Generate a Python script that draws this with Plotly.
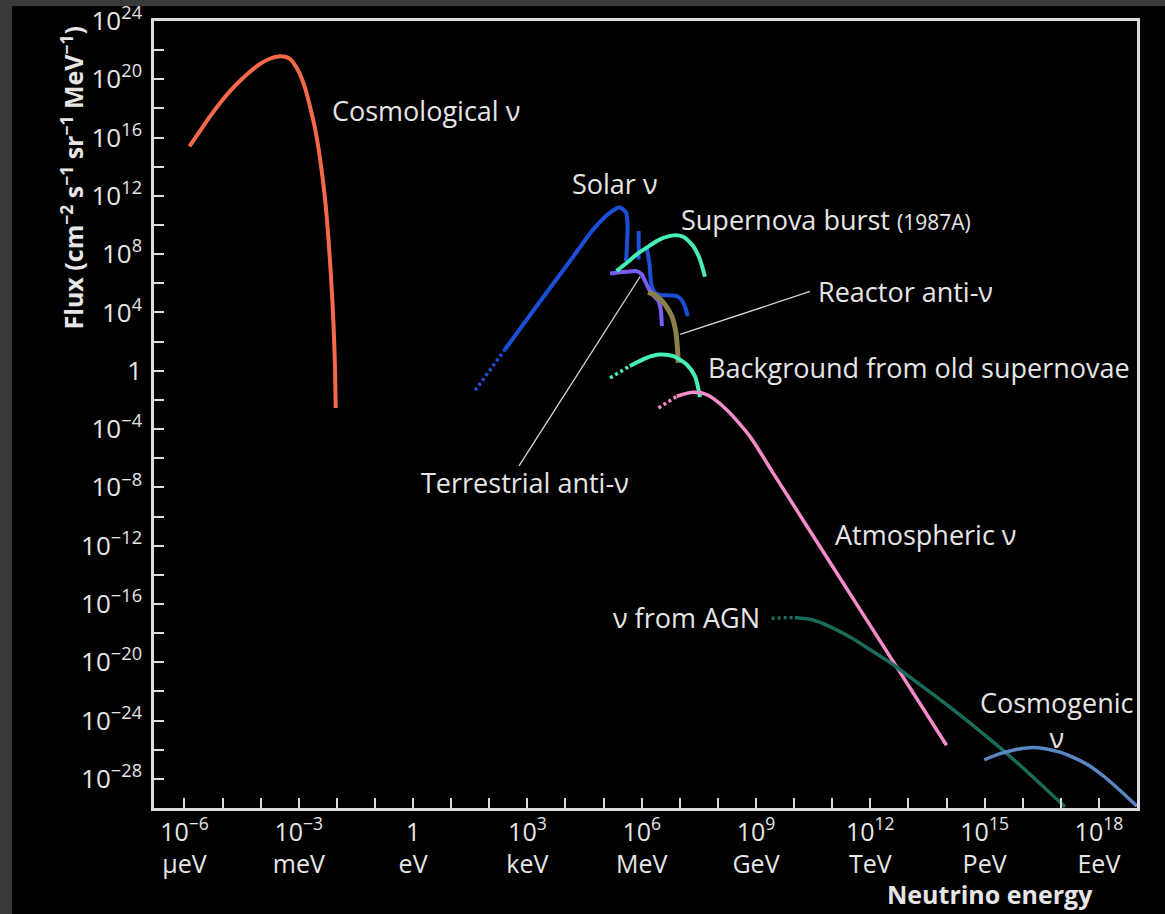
import numpy as np
import plotly.graph_objects as go

# ---- data (log10 of energy in eV, log10 of flux) ----
cosmo_lx = [-5.87, -5.59, -5.33, -5.07, -4.81, -4.54, -4.28, -4.02, -3.76, -3.54, -3.36, -3.23,
            -3.10, -2.97, -2.84, -2.71, -2.57, -2.44, -2.31, -2.22, -2.15, -2.09, -2.05, -2.03]
cosmo_ly = [15.39, 16.46, 17.45, 18.36, 19.17, 19.90, 20.52, 21.05, 21.41, 21.57, 21.55, 21.39,
            20.98, 20.36, 19.44, 18.18, 16.58, 14.52, 11.77, 9.02, 6.27, 3.29, 0.31, -2.55]

solar_dot_lx = [1.63, 2.41]
solar_dot_ly = [-1.34, 1.46]
solar_lx = [2.41, 3.24, 4.12, 4.73, 5.17, 5.43, 5.59, 5.63, 5.62, 5.60, 5.58]
solar_ly = [1.46, 4.43, 7.53, 9.70, 10.85, 11.20, 10.85, 9.90, 9.02, 7.87, 7.53]
solar_line_lx = [5.92, 5.92]
solar_line_ly = [9.59, 7.64]
solar_b8_lx = [6.13, 6.20, 6.26, 6.35, 6.48, 6.92, 7.07, 7.16, 7.21]
solar_b8_ly = [8.45, 7.41, 5.81, 5.35, 5.21, 5.12, 4.78, 4.21, 3.75]

terr_lx = [5.17, 5.34, 5.61, 5.87, 6.00, 6.09, 6.17, 6.31, 6.44, 6.50, 6.53]
terr_ly = [6.68, 6.73, 6.80, 6.84, 6.61, 6.15, 5.70, 5.17, 4.78, 4.21, 3.06]

reactor_lx = [6.17, 6.39, 6.61, 6.79, 6.90, 6.94, 6.96]
reactor_ly = [5.40, 5.12, 4.55, 3.75, 2.60, 1.46, 0.54]

sn_lx = [5.34, 5.61, 5.87, 6.13, 6.48, 6.83, 7.09, 7.35, 7.53, 7.66]
sn_ly = [6.84, 7.41, 7.99, 8.45, 9.02, 9.29, 9.20, 8.56, 7.64, 6.45]

bg_dot_lx = [5.17, 5.69]
bg_dot_ly = [-0.49, 0.33]
bg_lx = [5.69, 6.13, 6.48, 6.83, 7.18, 7.40, 7.53]
bg_ly = [0.33, 0.89, 1.11, 1.00, 0.43, -0.38, -1.80]

atm_dot_lx = [6.44, 6.92]
atm_dot_ly = [-2.55, -1.75]
atm_lx = [6.92, 7.35, 7.71, 8.23, 8.84, 9.45, 10.33, 12.08, 14.00]
atm_ly = [-1.75, -1.48, -1.64, -2.67, -4.50, -7.02, -10.63, -17.81, -25.69]

agn_dot_lx = [9.41, 10.02]
agn_dot_ly = [-16.98, -16.93]
agn_lx = [10.02, 10.50, 10.94, 11.47, 11.99, 12.52, 13.04, 13.57, 14.09, 14.62, 15.40, 16.19, 17.11]
agn_ly = [-16.93, -17.10, -17.55, -18.27, -19.13, -20.02, -21.02, -22.05, -23.08, -24.18, -25.86, -27.68, -29.92]

cosmogenic_lx = [14.99, 15.41, 15.80, 16.19, 16.59, 16.98, 17.37, 17.77, 18.16, 18.55, 19.00]
cosmogenic_ly = [-26.69, -26.27, -26.00, -25.86, -25.93, -26.17, -26.58, -27.13, -27.89, -28.78, -29.88]

# label leader lines
reactor_leader_lx = [7.01, 10.42]
reactor_leader_ly = [2.49, 5.44]
terr_leader_lx = [5.96, 2.78]
terr_leader_ly = [6.47, -6.52]

# axis ticks
x_tick_exp = list(range(-6, 19))
x_label_units = {-6: "μeV", -3: "meV", 0: "eV", 3: "keV", 6: "MeV", 9: "GeV", 12: "TeV", 15: "PeV", 18: "EeV"}
y_tick_exp = list(range(-28, 25, 2))

TEXT = "#e6e6e6"
AXIS = "#dcdcdc"
FONT = "Open Sans"


def p(v):
    return np.power(10.0, np.asarray(v, dtype=float))


def sup(k):
    s = str(k).replace("-", "−")
    return f"10<sup>{s}</sup>"


fig = go.Figure()


def add(lx, ly, color, width=4, dash="solid", spline=True):
    fig.add_trace(go.Scatter(
        x=p(lx), y=p(ly), mode="lines",
        line=dict(color=color, width=width, dash=dash,
                  shape="spline" if spline else "linear", smoothing=0.7),
        hoverinfo="skip", showlegend=False,
    ))


DOTS = "3px,3px"

# curves
add(cosmo_lx, cosmo_ly, "#f4694a", 4)
add(solar_dot_lx, solar_dot_ly, "#1c4fd8", 3.5, DOTS, False)
add(solar_lx, solar_ly, "#1c4fd8", 4)
add(solar_line_lx, solar_line_ly, "#1c4fd8", 4, spline=False)
add(solar_b8_lx, solar_b8_ly, "#1c4fd8", 4)
add(terr_lx, terr_ly, "#7a5cf6", 4)
add(reactor_lx, reactor_ly, "#8c7f48", 5)
add(sn_lx, sn_ly, "#45efb6", 4)
add(bg_dot_lx, bg_dot_ly, "#45efb6", 3.5, DOTS, False)
add(bg_lx, bg_ly, "#45efb6", 4)
add(atm_dot_lx, atm_dot_ly, "#f58bcb", 3.5, DOTS, False)
add(atm_lx, atm_ly, "#f58bcb", 3.5)
add(agn_dot_lx, agn_dot_ly, "#1b6b5c", 3.5, DOTS, False)
add(agn_lx, agn_ly, "#1b6b5c", 3.5)
add(cosmogenic_lx, cosmogenic_ly, "#5b86c6", 3.5)

# leader lines
add(reactor_leader_lx, reactor_leader_ly, "#d8d8d8", 1.3, spline=False)
add(terr_leader_lx, terr_leader_ly, "#d8d8d8", 1.3, spline=False)

# curve labels: (text, log x, log y, xanchor)
labels = [
    ("Cosmological ν", -2.18, 17.88, "left"),
    ("Solar ν", 4.12, 12.87, "left"),
    ("Supernova burst <span style='font-size:21px'>(1987A)</span>", 6.98, 10.39, "left"),
    ("Reactor anti-ν", 10.58, 5.44, "left"),
    ("Background from old supernovae", 7.69, 0.22, "left"),
    ("Terrestrial anti-ν", 0.16, -7.68, "left"),
    ("Atmospheric ν", 11.02, -11.26, "left"),
    ("ν from AGN", 9.16, -16.96, "right"),
    ("Cosmogenic<br>ν", 16.90, -23.97, "center"),
]
for text, lx, ly, xa in labels:
    fig.add_annotation(x=lx, y=ly, xref="x", yref="y", text=text, showarrow=False,
                       xanchor=xa, yanchor="middle", align="center",
                       font=dict(family=FONT, size=27, color=TEXT))

# axis titles
fig.add_annotation(x=-0.0834, y=0.80, xref="paper", yref="paper",
                   text="<b>Flux (cm<sup>−2</sup> s<sup>−1</sup> sr<sup>−1</sup> MeV<sup>−1</sup>)</b>",
                   textangle=-90, showarrow=False, xanchor="center", yanchor="middle",
                   font=dict(family=FONT, size=25, color=TEXT))
fig.add_annotation(x=0.8505, y=-0.1334, xref="paper", yref="paper",
                   text="<b>Neutrino energy</b>", showarrow=False,
                   xanchor="center", yanchor="bottom",
                   font=dict(family=FONT, size=25, color=TEXT))

x_ticktext = []
for k in x_tick_exp:
    if k in x_label_units:
        top = "1" if k == 0 else sup(k)
        x_ticktext.append(f"{top}<br>{x_label_units[k]}")
    else:
        x_ticktext.append("")
y_ticktext = [("1" if k == 0 else sup(k)) if k % 4 == 0 else "" for k in y_tick_exp]

axis_common = dict(
    showgrid=False, zeroline=False, showline=True, linecolor=AXIS, linewidth=2.5,
    mirror=True, ticks="inside", ticklen=10, tickwidth=2, tickcolor=AXIS,
    automargin=False,
)

fig.update_layout(
    width=1165, height=914,
    margin=dict(l=154, r=28, t=21, b=106),
    paper_bgcolor="#000000", plot_bgcolor="#000000",
    showlegend=False,
    xaxis=dict(type="log", range=[-6.8, 19.0], tickmode="array",
               tickvals=p(x_tick_exp), ticktext=x_ticktext,
               tickfont=dict(family=FONT, size=25, color=TEXT), **axis_common),
    yaxis=dict(type="log", range=[-30, 24], tickmode="array",
               tickvals=p(y_tick_exp), ticktext=y_ticktext, ticklabelstandoff=4,
               tickfont=dict(family=FONT, size=26, color=TEXT), **axis_common),
    shapes=[
        # dark frame around the figure
        dict(type="rect", xref="paper", yref="paper", x0=-0.1567, x1=-0.1445,
             y0=-0.1347, y1=1.0267, fillcolor="#3a3a3a", line=dict(width=0)),
        dict(type="rect", xref="paper", yref="paper", x0=-0.1567, x1=1.0285,
             y0=1.0191, y1=1.0267, fillcolor="#3a3a3a", line=dict(width=0)),
    ],
)

fig.write_html("out.html")
